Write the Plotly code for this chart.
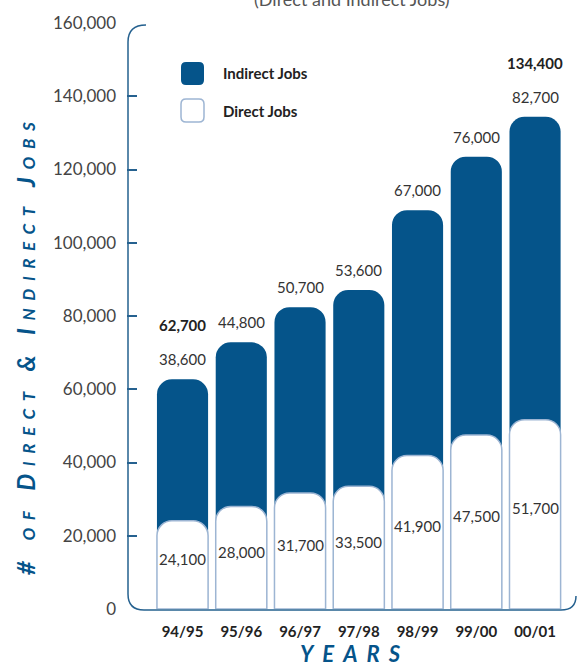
import plotly.graph_objects as go

# ---------------- data ----------------
years = ["94/95", "95/96", "96/97", "97/98", "98/99", "99/00", "00/01"]
direct_jobs = [24100, 28000, 31700, 33500, 41900, 47500, 51700]
indirect_jobs = [38600, 44800, 50700, 53600, 67000, 76000, 82700]
total_labelled = ["94/95", "00/01"]          # years whose bold total is printed
y_ticks = [0, 20000, 40000, 60000, 80000, 100000, 120000, 140000, 160000]

totals = [d + i for d, i in zip(direct_jobs, indirect_jobs)]

# ---------------- style ----------------
BLUE = "#05548a"
AXIS_BLUE = "#25618f"
LIGHT = "#9db5d3"
TXT = "#333333"
W_FIG, H_FIG = 578, 664
L, R, T, B = 127, 3, 23, 55
PW, PH = W_FIG - L - R, H_FIG - T - B
BOTTOM = H_FIG - B
XR = [-0.945, 6.68]


def px(x):
    return (x - L) / PW


def py(y):
    return (BOTTOM - y) / PH


fig = go.Figure()

fig.add_trace(go.Bar(
    x=years, y=totals, width=0.87, name="Indirect Jobs",
    marker=dict(color=BLUE, line=dict(width=0), cornerradius=15), showlegend=False,
    hoverinfo="skip", xaxis="x", yaxis="y"))
fig.add_trace(go.Bar(
    x=years, y=direct_jobs, width=0.87, name="Direct Jobs",
    marker=dict(color="white", line=dict(color=LIGHT, width=1.5), cornerradius=15),
    showlegend=False, hoverinfo="skip", xaxis="x2", yaxis="y"))

annotations = []
num_font = dict(family="Lato", size=15, color=TXT)
for yr, d, ind, tot in zip(years, direct_jobs, indirect_jobs, totals):
    annotations.append(dict(x=yr, y=d / 2, xref="x", yref="y", text=f"{d:,}",
                            xanchor="center", yanchor="middle",
                            showarrow=False, yshift=6, font=num_font))
    annotations.append(dict(x=yr, y=tot, xref="x", yref="y", text=f"{ind:,}",
                            xanchor="center", yanchor="middle",
                            showarrow=False, yshift=20, font=num_font))
    if yr in total_labelled:
        annotations.append(dict(x=yr, y=tot, xref="x", yref="y", text=f"<b>{tot:,}</b>",
                                xanchor="center", yanchor="middle",
                                showarrow=False, yshift=54,
                                font=dict(family="Lato", size=15, color="#222222")))

# title (cut off at top)
annotations.append(dict(x=px(352), y=py(-1), xref="paper", yref="paper",
                        xanchor="center", yanchor="middle",
                        text="(Direct and Indirect Jobs)", showarrow=False,
                        font=dict(family="Lato", size=18, color="#555555")))

# y-axis title
ytitle = "# of Direct &amp; Indirect Jobs"
annotations.append(dict(x=px(25), y=py(345), xref="paper", yref="paper",
                        xanchor="center", yanchor="middle",
                        text=f"<span style='letter-spacing:7.6px'><b><i>{ytitle}</i></b></span>",
                        textangle=-90, showarrow=False,
                        font=dict(family="Lato", size=24, color=BLUE, variant="small-caps")))
# x-axis title
annotations.append(dict(x=px(354), y=py(653), xref="paper", yref="paper",
                        xanchor="center", yanchor="middle",
                        text="<span style='letter-spacing:9px'><b><i>YEARS</i></b></span>",
                        showarrow=False,
                        font=dict(family="Lato", size=22, color=BLUE)))

# legend text
annotations.append(dict(x=px(221), y=py(73), xref="paper", yref="paper",
                        xanchor="left", yanchor="middle",
                        text="<b>Indirect Jobs</b>", showarrow=False,
                        font=dict(family="Lato", size=15, color="#222222")))
annotations.append(dict(x=px(221), y=py(111), xref="paper", yref="paper",
                        xanchor="left", yanchor="middle",
                        text="<b>Direct Jobs</b>", showarrow=False,
                        font=dict(family="Lato", size=15, color="#222222")))


def rounded_rect(x0, y0, x1, y1, r):
    pts = [
        f"M {px(x0 + r)} {py(y0)}",
        f"L {px(x1 - r)} {py(y0)}",
        f"Q {px(x1)} {py(y0)} {px(x1)} {py(y0 + r)}",
        f"L {px(x1)} {py(y1 - r)}",
        f"Q {px(x1)} {py(y1)} {px(x1 - r)} {py(y1)}",
        f"L {px(x0 + r)} {py(y1)}",
        f"Q {px(x0)} {py(y1)} {px(x0)} {py(y1 - r)}",
        f"L {px(x0)} {py(y0 + r)}",
        f"Q {px(x0)} {py(y0)} {px(x0 + r)} {py(y0)} Z",
    ]
    return " ".join(pts)


frame = " ".join([
    f"M {px(146)} {py(25)}",
    f"Q {px(128)} {py(25)} {px(128)} {py(42)}",
    f"L {px(128)} {py(594)}",
    f"Q {px(128)} {py(610)} {px(144)} {py(610)}",
    f"L {px(561)} {py(610)}",
    f"Q {px(576)} {py(610)} {px(576)} {py(596)}",
])

shapes = [
    dict(type="path", path=frame, xref="paper", yref="paper",
         line=dict(color=AXIS_BLUE, width=1.5), layer="below"),
    dict(type="path", path=rounded_rect(181, 62, 204, 85, 5), xref="paper", yref="paper",
         fillcolor=BLUE, line=dict(width=0)),
    dict(type="path", path=rounded_rect(181, 99, 204, 122, 5), xref="paper", yref="paper",
         fillcolor="white", line=dict(color=LIGHT, width=1.5)),
]

fig.update_layout(
    width=W_FIG, height=H_FIG,
    margin=dict(l=L, r=R, t=T, b=B),
    paper_bgcolor="white", plot_bgcolor="white",
    barmode="overlay",
    annotations=annotations, shapes=shapes,
    xaxis=dict(type="category", range=XR, showgrid=False, showline=False,
               zeroline=False, ticks="", ticklabelstandoff=12,
               tickfont=dict(family="Lato", size=15, color="#222222", weight="bold")),
    xaxis2=dict(type="category", range=XR, overlaying="x", matches="x", visible=False,
                showgrid=False, zeroline=False),
    yaxis=dict(range=[0, 160000], tickvals=y_ticks, tickformat=",", showgrid=False,
               showline=False, zeroline=False, ticks="", ticklabelstandoff=10,
               tickfont=dict(family="Lato", size=17, color="#444444"),
               minor=dict(tickvals=y_ticks[1:-1], ticks="inside", ticklen=10,
                          tickcolor=AXIS_BLUE, tickwidth=1.5)),
)

fig.write_html("out.html")
